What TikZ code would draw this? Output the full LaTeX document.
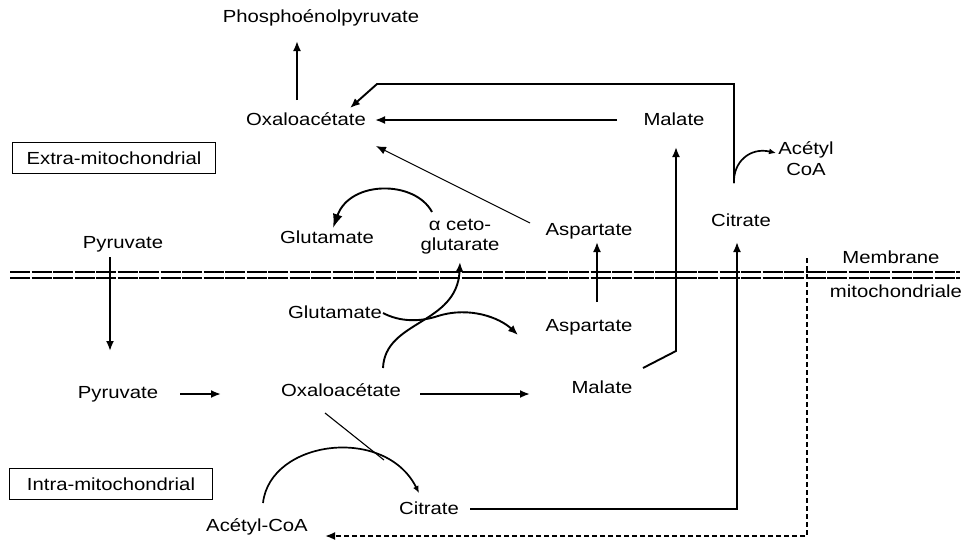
\documentclass[tikz,border=0pt]{standalone}
\usepackage{fontspec}
\setmainfont{Liberation Sans}[FakeStretch=1.16]
\usetikzlibrary{arrows.meta}
\begin{document}
\begin{tikzpicture}[x=1pt,y=-1pt,
  lbl/.style={inner sep=0pt, align=center, font=\fontsize{17.5}{21}\selectfont},
  lbox/.style={draw, line width=1.4pt, minimum width=203pt, minimum height=31pt, inner sep=0pt, font=\fontsize{17.5}{21}\selectfont},
  arr/.style={line width=1.9pt, -{Latex[length=10pt,width=8pt]}},
  bigarr/.style={line width=1.9pt, -{Latex[length=14pt,width=10pt]}},
  smallarr/.style={line width=1.7pt, -{Latex[length=7pt,width=6pt]}},
  thinarr/.style={line width=1.1pt, -{Latex[length=10pt,width=8pt]}},
  thinln/.style={line width=1.1pt},
  membl/.style={line width=2pt, dash pattern=on 20pt off 1.5pt},
  dashln/.style={line width=1.9pt, dash pattern=on 5pt off 3pt},
]
\useasboundingbox (0,0) rectangle (964,542);

% ---- nodes ----
\node[lbl] (pep)  at (321,18)  {Phosphoénolpyruvate};
\node[lbl] (oaaT) at (306,119) {Oxaloacétate};
\node[lbl] (malT) at (674,119) {Malate};
\node[lbl] (acoaT) at (806,159) {Acétyl\\CoA};
\node[lbl] (pyrT) at (123,244) {Pyruvate};
\node[lbl] (gluT) at (327,237) {Glutamate};
\node[lbl, font=\fontsize{17.5}{20}\selectfont] (akg) at (460,237) {α ceto-\\glutarate};
\node[lbl] (aspT) at (589,231) {Aspartate};
\node[lbl] (citT) at (741,220) {Citrate};
\node[lbl] (memb) at (891,257) {Membrane};
\node[lbl] (mito) at (896,291) {mitochondriale};
\node[lbl] (gluB) at (335,312) {Glutamate};
\node[lbl] (aspB) at (589,327) {Aspartate};
\node[lbl] (pyrB) at (118,394) {Pyruvate};
\node[lbl] (oaaB) at (341,390) {Oxaloacétate};
\node[lbl] (malB) at (602,387) {Malate};
\node[lbl] (citB) at (429,508) {Citrate};
\node[lbl] (acoaB) at (257,527) {Acétyl-CoA};
\node[lbox] (extra) at (114,158) {Extra-mitochondrial};
\node[lbox] (intra) at (111,484) {Intra-mitochondrial};

% ---- membrane ----
\coordinate (m1a) at (10,272); \coordinate (m1b) at (960,272);
\coordinate (m2a) at (10,278); \coordinate (m2b) at (960,278);
\draw[membl] (m1a) -- (m1b);
\draw[membl] (m2a) -- (m2b);

% ---- coordinates for connectors ----
\coordinate (pepS) at (297,100); \coordinate (pepE) at (297,41);
\coordinate (mtS) at (617,120);  \coordinate (mtE) at (375,120);
\coordinate (ctS) at (734,183);  \coordinate (ctC) at (734,84);
\coordinate (ctD) at (377,84);   \coordinate (ctE) at (350,108);
\coordinate (acE) at (776,153);
\coordinate (asS) at (530,223);  \coordinate (asE) at (376,146);
\coordinate (mbS) at (643,368);  \coordinate (mbC) at (676,351); \coordinate (mbE) at (676,147);
\coordinate (cbS) at (470,509);  \coordinate (cbC) at (737,509); \coordinate (cbE) at (737,242);
\coordinate (dsS) at (807,258);  \coordinate (dsC) at (807,536); \coordinate (dsE) at (325,536);
\coordinate (pyS) at (110,257);  \coordinate (pyE) at (110,351);
\coordinate (ppS) at (180,394);  \coordinate (ppE) at (221,394);
\coordinate (omS) at (420,394);  \coordinate (omE) at (530,394);
\coordinate (auS) at (597,302);  \coordinate (auE) at (597,242);
\coordinate (kgS) at (432,212);  \coordinate (kgE) at (333,228);
\coordinate (gbS) at (383,313);  \coordinate (gbM) at (438,316); \coordinate (gbE) at (518,335);
\coordinate (obS) at (383,368);  \coordinate (obE) at (460,262);
\coordinate (alS) at (263,503);  \coordinate (alE) at (419,493);
\coordinate (otS) at (325,413);  \coordinate (otE) at (384,460);

% ---- connectors ----
\draw[arr] (pepS) -- (pepE);
\draw[arr] (mtS) -- (mtE);
\draw[arr] (ctS) -- (ctC) -- (ctD) -- (ctE);
\draw[smallarr] (ctS) .. controls (733,162) and (750,147) .. (acE);
\draw[thinarr] (asS) -- (asE);
\draw[arr] (mbS) -- (mbC) -- (mbE);
\draw[arr] (cbS) -- (cbC) -- (cbE);
\draw[dashln, -{Latex[length=10pt,width=8pt]}] (dsS) -- (dsC) -- (dsE);
\draw[arr] (pyS) -- (pyE);
\draw[arr] (ppS) -- (ppE);
\draw[arr] (omS) -- (omE);
\draw[arr] (auS) -- (auE);
\draw[bigarr] (kgS) .. controls (415,180) and (350,180) .. (kgE);
\draw[arr] (gbS) .. controls (400,322) and (420,322) .. (gbM) .. controls (470,306) and (500,318) .. (gbE);
\draw[arr] (obS) .. controls (385,320) and (457,325) .. (obE);
\draw[smallarr] (alS) .. controls (270,440) and (385,425) .. (alE);
\draw[thinln] (otS) -- (otE);
\end{tikzpicture}
\end{document}
